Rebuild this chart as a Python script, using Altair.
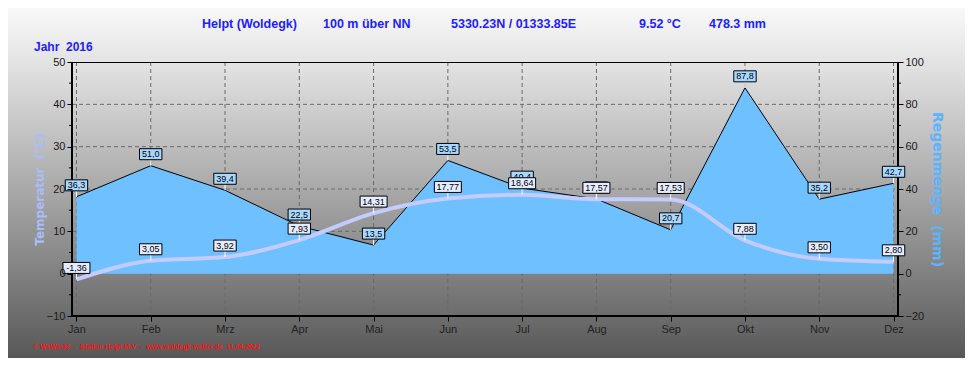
import altair as alt
import pandas as pd

# ---- data ----
months = ["Jan", "Feb", "Mrz", "Apr", "Mai", "Jun", "Jul", "Aug", "Sep", "Okt", "Nov", "Dez"]
temperature = [-1.36, 3.05, 3.92, 7.93, 14.31, 17.77, 18.64, 17.57, 17.53, 7.88, 3.50, 2.80]
precipitation = [36.3, 51.0, 39.4, 22.5, 13.5, 53.5, 40.4, 35.3, 20.7, 87.8, 35.2, 42.7]
temp_ticks = [-10, 0, 10, 20, 30, 40, 50]
temp_minor_ticks = [-5, 5, 15, 25, 35, 45]
precip_ticks = [-20, 0, 20, 40, 60, 80, 100]
precip_minor_ticks = [-10, 10, 30, 50, 70, 90]
grid_temps = [10, 20, 30, 40]
header_parts = ["Helpt (Woldegk)", "100 m über NN", "5330.23N / 01333.85E", "9.52 °C", "478.3 mm"]
year_text = "Jahr\u00a0\u00a02016"
footer_text = "© WsWin32\u00a0\u00a0-\u00a0\u00a0Station Helpt M-V\u00a0\u00a0-\u00a0\u00a0www.woldegk-wetter.de\u00a0\u00a011.04.2022"

W, H = 826, 254
PAD = {"left": 64, "top": 54, "right": 67, "bottom": 42}

df = pd.DataFrame({"month": months, "temp": temperature, "precip": precipitation})
df["temp_label"] = [f"{v:.2f}".replace(".", ",") for v in temperature]
df["precip_label"] = [f"{v:.1f}".replace(".", ",") for v in precipitation]

one = pd.DataFrame({"k": [0]})

tscale = alt.Scale(domain=[-10, 50], nice=False, zero=False)
pscale = alt.Scale(domain=[-20, 100], nice=False, zero=False)

X = alt.X(
    "month:N",
    sort=months,
    scale=alt.Scale(type="point", domain=months, padding=0.06),
    axis=alt.Axis(
        orient="bottom", title=None, labelAngle=0, domain=False,
        tickColor="black", tickSize=5, labelFontSize=11, labelColor="#222222",
        labelFont="Liberation Sans", labelPadding=2, grid=False, zindex=2,
    ),
)

# background gradient covering whole canvas
bg = alt.Chart(one).mark_rect(
    fill=alt.LinearGradient(
        gradient="linear",
        stops=[
            alt.GradientStop(color="#f8f8f8", offset=0),
            alt.GradientStop(color="#e4e4e4", offset=0.15),
            alt.GradientStop(color="#b4b4b4", offset=0.45),
            alt.GradientStop(color="#7a7a7a", offset=0.8),
            alt.GradientStop(color="#585858", offset=1),
        ],
        x1=0, x2=0, y1=0, y2=1,
    )
).encode(
    x=alt.value(-PAD["left"]), x2=alt.value(W + PAD["right"]),
    y=alt.value(-PAD["top"]), y2=alt.value(H + PAD["bottom"]),
)

hgrid = alt.Chart(pd.DataFrame({"g": grid_temps})).mark_rule(
    strokeDash=[4, 3], color="#6a6a6a", strokeWidth=1
).encode(y=alt.Y("g:Q", scale=tscale, axis=None), x=alt.value(0), x2=alt.value(W))

vgrid = alt.Chart(df).mark_rule(
    strokeDash=[4, 3], color="#6a6a6a", strokeWidth=1
).encode(x=X, y=alt.value(0), y2=alt.value(H))

area = alt.Chart(df).mark_area(
    color="#6ec0ff", opacity=1, line={"color": "black", "strokeWidth": 1}
).encode(
    x=X,
    y=alt.Y(
        "precip:Q", scale=pscale,
        axis=alt.Axis(
            orient="right", values=precip_ticks, title="Regenmenge\u00a0\u00a0(mm)",
            titleColor="#5cb4ff", titleFontSize=14, titleFontWeight="bold",
            titleFont="DejaVu Sans", titlePadding=6, domain=False,
            tickColor="black", tickSize=5, labelFontSize=11, labelColor="#1a1a1a",
            labelFont="Liberation Sans", labelPadding=2, grid=False, zindex=2,
        ),
    ),
    y2=alt.datum(0),
)

# frame / axis lines drawn as marks so that value labels sit above them
frame_style = dict(color="black", strokeWidth=2)
left_line = alt.Chart(one).mark_rule(**frame_style).encode(
    x=alt.value(0), y=alt.value(0), y2=alt.value(H))
right_line = alt.Chart(one).mark_rule(**frame_style).encode(
    x=alt.value(W), y=alt.value(0), y2=alt.value(H))
bottom_line = alt.Chart(one).mark_rule(**frame_style).encode(
    x=alt.value(-1), x2=alt.value(W + 1), y=alt.value(H))
top_border = alt.Chart(one).mark_rule(color="black", strokeWidth=1).encode(
    x=alt.value(0), x2=alt.value(W), y=alt.value(0.5))

minor_left = alt.Chart(pd.DataFrame({"m": temp_minor_ticks})).mark_rule(
    color="black", strokeWidth=1
).encode(y=alt.Y("m:Q", scale=tscale, axis=None), x=alt.value(-3), x2=alt.value(0))
minor_right = alt.Chart(pd.DataFrame({"m": precip_minor_ticks})).mark_rule(
    color="black", strokeWidth=1
).encode(y=alt.Y("m:Q", scale=pscale, axis=None), x=alt.value(W), x2=alt.value(W + 3))

tline = alt.Chart(df).mark_line(
    interpolate="monotone", color="#c4ccff", strokeWidth=4
).encode(
    x=X,
    y=alt.Y(
        "temp:Q", scale=tscale,
        axis=alt.Axis(
            orient="left", values=temp_ticks, title="Temperatur\u00a0\u00a0(°C)",
            titleColor="#a9bdfa", titleFontSize=12, titleFontWeight="bold",
            titleFont="DejaVu Sans", titlePadding=0, domain=False,
            tickColor="black", tickSize=5, labelFontSize=11, labelColor="#1a1a1a",
            labelFont="Liberation Sans", labelPadding=2, grid=False, zindex=2,
        ),
    ),
)


def label_layers(ycol, labcol, scale, fill):
    base = alt.Chart(df).transform_calculate(
        lab=f"datum.{labcol}",
    ).transform_calculate(
        w="length(datum.lab) * 4.6 + 4",
    ).transform_calculate(
        shp="'M' + (-datum.w / 2) + ',-17L' + (datum.w / 2) + ',-17L' + (datum.w / 2) + ',-6L' + (-datum.w / 2) + ',-6Z'",
    ).encode(x=X, y=alt.Y(f"{ycol}:Q", scale=scale, axis=None))
    tick = base.mark_point(
        shape="M0,0L0,-6", size=4, filled=False, stroke="white", strokeWidth=1, opacity=1
    )
    box = base.mark_point(
        size=4, filled=True, fill=fill, stroke="black", strokeWidth=1, opacity=1
    ).encode(shape=alt.Shape("shp:N", scale=None))
    txt = base.mark_text(
        dy=-11.5, fontSize=9, font="Liberation Sans", color="black", baseline="middle"
    ).encode(text="lab:N")
    return [tick, box, txt]


plabels = label_layers("precip", "precip_label", pscale, "#a8d8ff")
tlabels = label_layers("temp", "temp_label", tscale, "#e6ecff")

header_x = [202, 323, 451, 639, 709]
header_layers = [
    alt.Chart(one).mark_text(
        align="left", baseline="middle", font="Liberation Sans", fontSize=12.5,
        fontWeight="bold", color="#2020ff", text=t,
    ).encode(x=alt.value(px - 72), y=alt.value(24 - 62))
    for t, px in zip(header_parts, header_x)
]
year = alt.Chart(one).mark_text(
    align="left", baseline="middle", font="Liberation Sans", fontSize=12,
    fontWeight="bold", color="#2020ff", text=year_text,
).encode(x=alt.value(34 - 72), y=alt.value(47 - 62))
footer = alt.Chart(one).mark_text(
    align="left", baseline="middle", font="Liberation Sans", fontSize=6.8,
    fontWeight="bold", color="#ff1010", text=footer_text,
).encode(x=alt.value(33 - 72), y=alt.value(347 - 62))

chart = alt.layer(
    bg, hgrid, vgrid, area, top_border, left_line, right_line, bottom_line,
    minor_left, minor_right,
    *plabels, tline, *tlabels,
    *header_layers, year, footer,
).resolve_scale(y="independent").properties(
    width=W, height=H, padding=PAD, autosize=alt.AutoSizeParams(type="none"),
    background="white",
).configure_view(stroke=None)

chart.save("out.html", embed_options={"renderer": "svg", "actions": False})
